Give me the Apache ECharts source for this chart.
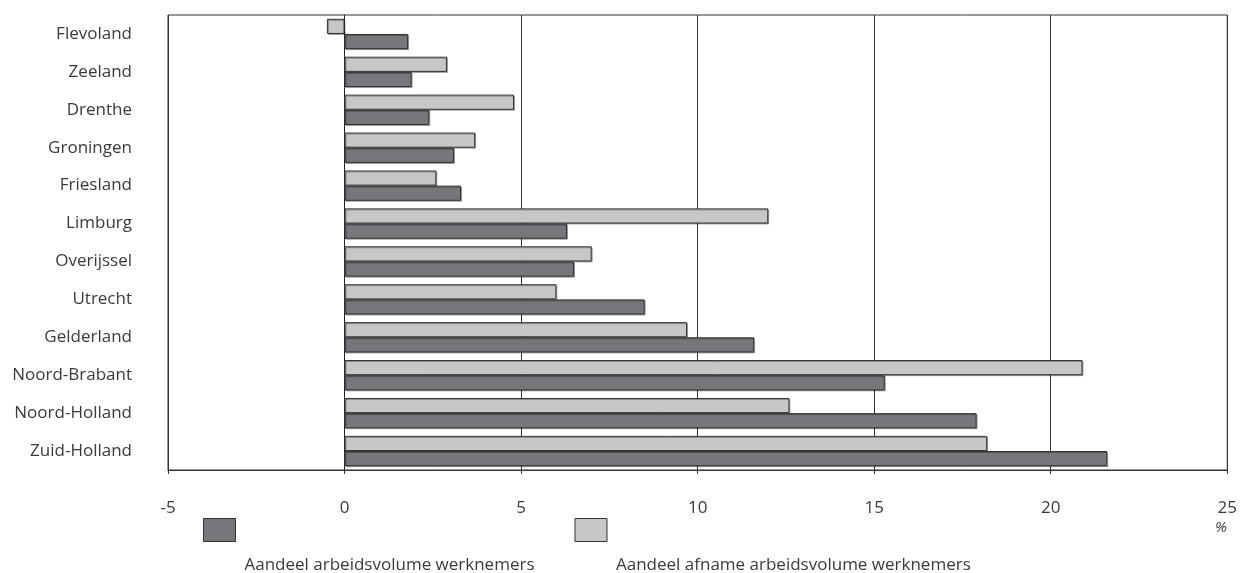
<!DOCTYPE html>
<html><head><meta charset="utf-8">
<script src="https://cdn.jsdelivr.net/npm/echarts@6/dist/echarts.min.js"></script>
<style>html,body{margin:0;padding:0;background:#fff}#c{width:1240px;height:573px}</style>
</head><body><div id="c"></div>
<script>
const categories = ["Flevoland","Zeeland","Drenthe","Groningen","Friesland","Limburg","Overijssel","Utrecht","Gelderland","Noord-Brabant","Noord-Holland","Zuid-Holland"];
const aandeelArbeidsvolume = [1.8,1.9,2.4,3.1,3.3,6.3,6.5,8.5,11.6,15.3,17.9,21.6];
const aandeelAfname = [-0.5,2.9,4.8,3.7,2.6,12.0,7.0,6.0,9.7,20.9,12.6,18.2];
const xTicks = [-5,0,5,10,15,20,25];
const seriesNames = ["Aandeel arbeidsvolume werknemers","Aandeel afname arbeidsvolume werknemers"];

const font = "'Open Sans', 'Noto Sans', sans-serif";
const fs = 17;
const chart = echarts.init(document.getElementById('c'), null, {renderer:'canvas'});
chart.setOption({
  animation:false,
  textStyle:{fontFamily:font},
  grid:{left:168,right:12,top:15,bottom:103,show:true,borderColor:'#333',borderWidth:1,backgroundColor:'transparent'},
  xAxis:{type:'value',min:xTicks[0],max:xTicks[xTicks.length-1],interval:5,
    axisLine:{show:true,lineStyle:{color:'#333'}},
    axisTick:{show:true,length:4,lineStyle:{color:'#333'}},
    axisLabel:{color:'#3a3a3a',fontSize:fs,margin:30,fontFamily:font},
    splitLine:{show:true,lineStyle:{color:'#333',width:1}}},
  yAxis:{type:'category',data:categories,inverse:true,
    axisLine:{show:true,onZero:true,lineStyle:{color:'#222',width:1}},
    axisTick:{show:false},
    axisLabel:{color:'#3a3a3a',fontSize:fs,margin:36,fontFamily:font}},
  legend:{left:198,top:513,itemWidth:32,itemHeight:23,itemGap:40,
    icon:'rect',
    data:[seriesNames[0],seriesNames[1]],
    formatter:function(n){return '{t|'+n+'}';},
    textStyle:{color:'#3a3a3a',fontSize:fs,fontFamily:font,
      rich:{t:{fontSize:fs,fontFamily:font,color:'#3a3a3a',padding:[70,0,0,4]}}},
    itemStyle:{borderColor:'#333',borderWidth:1,shadowBlur:0,shadowColor:'transparent'}},
  graphic:[{type:'text',left:1215,top:520,style:{text:'%',fill:'#3a3a3a',font:'italic 15px '+font}}],
  series:[
    {name:seriesNames[1],type:'bar',data:aandeelAfname,barGap:'0%',barCategoryGap:'20%',
     itemStyle:{color:'#c6c7c9',borderColor:'#333',borderWidth:1,shadowColor:'rgba(0,0,0,0.3)',shadowOffsetX:1,shadowOffsetY:1,shadowBlur:0}},
    {name:seriesNames[0],type:'bar',data:aandeelArbeidsvolume,barGap:'0%',barCategoryGap:'20%',
     itemStyle:{color:'#76777b',borderColor:'#333',borderWidth:1,shadowColor:'rgba(0,0,0,0.3)',shadowOffsetX:1,shadowOffsetY:1,shadowBlur:0}}
  ]
});
</script></body></html>
